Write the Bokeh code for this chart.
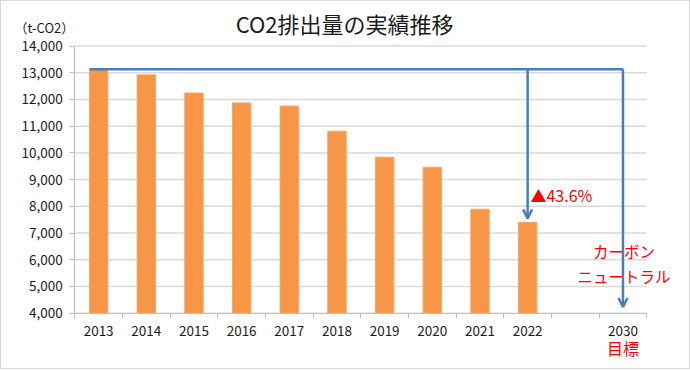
from bokeh.plotting import figure
from bokeh.models import (FixedTicker, Range1d, Label, Arrow, OpenHead,
                          NumeralTickFormatter, ColumnDataSource)
from bokeh.embed import file_html
from bokeh.resources import INLINE

# ---- data ----
years = ["2013", "2014", "2015", "2016", "2017", "2018", "2019", "2020",
         "2021", "2022", "", "2030"]
emissions = [13130, 12920, 12240, 11870, 11750, 10810, 9840, 9460, 7890, 7400]
y_ticks = [4000, 5000, 6000, 7000, 8000, 9000, 10000, 11000, 12000, 13000, 14000]
title_text = "CO2排出量の実績推移"
unit_text = "（t-CO2）"
target_text = "目標"
neutral_lines = ["カーボン", "ニュートラル"]

FONT = "Noto Sans CJK JP"
ORANGE = "#f79646"
BLUE = "#4a7ebb"
RED = "#ff0000"
GRID = "#d9d9d9"
AXIS = "#bfbfbf"
TEXT = "#1a1a1a"

W, H = 690, 369
n = len(years)
centers = [i + 0.5 for i in range(n)]
bar_w = 0.386
src = ColumnDataSource(dict(x=centers[:len(emissions)], top=emissions))

# pixel layout of the plotting area inside the picture
px_left, px_right = 73.3, 645.3          # x = 0 .. n
px_top, px_bottom = 44.5, 311.7          # y = 14000 .. 4000
sx = (px_right - px_left) / n
sy = (px_bottom - px_top) / (y_ticks[-1] - y_ticks[0])
x_range = Range1d(-px_left / sx, n + (W - px_right) / sx)
y_range = Range1d(y_ticks[0] - (H - px_bottom) / sy, y_ticks[-1] + px_top / sy)

p = figure(width=W, height=H, x_range=x_range, y_range=y_range, title=None,
           output_backend="svg", toolbar_location=None,
           min_border_left=0, min_border_right=0,
           min_border_top=0, min_border_bottom=0)
p.styles = {"border": "1px solid #d9d9d9"}
p.outline_line_color = None
p.background_fill_color = "white"
p.border_fill_color = "white"
p.xgrid.grid_line_color = None
p.ygrid.grid_line_color = None

# horizontal gridlines across the category span
p.segment(x0=0, x1=n, y0=y_ticks, y1=y_ticks, line_color=GRID, line_width=1.5)

p.vbar(x="x", top="top", bottom=y_ticks[0], width=bar_w, source=src,
       fill_color=ORANGE, line_color="#f9a561", line_width=1)

# axes fixed inside the frame
lab_idx = [i for i, y in enumerate(years) if y]
xa = p.xaxis[0]
xa.fixed_location = y_ticks[0]
xa.bounds = (0, n)
xa.ticker = FixedTicker(ticks=[centers[i] for i in lab_idx],
                        minor_ticks=list(range(n + 1)))
xa.major_label_overrides = {centers[i]: years[i] for i in lab_idx}
xa.major_tick_out = 0
xa.major_tick_in = 0
xa.minor_tick_out = 5
xa.minor_tick_in = 0
xa.minor_tick_line_color = AXIS
xa.axis_line_color = AXIS
xa.axis_line_width = 1.2
xa.major_label_standoff = 8

ya = p.yaxis[0]
ya.fixed_location = 0
ya.bounds = (y_ticks[0], y_ticks[-1])
ya.ticker = FixedTicker(ticks=y_ticks)
ya.formatter = NumeralTickFormatter(format="0,0")
ya.major_tick_out = 5
ya.major_tick_in = 0
ya.minor_tick_line_color = None
ya.major_tick_line_color = AXIS
ya.axis_line_color = AXIS
ya.axis_line_width = 1.2
ya.major_label_standoff = 7

for ax in (xa, ya):
    ax.major_label_text_font = FONT
    ax.major_label_text_font_size = "13.5px"
    ax.major_label_text_color = TEXT

# reduction annotation lines
base = emissions[0]
i22 = len(emissions) - 1
i30 = n - 1
x_left = centers[0] - bar_w / 2
p.line(x=[x_left, centers[i30]], y=[base, base], line_color=BLUE, line_width=2.5)
p.add_layout(Arrow(end=OpenHead(size=9, line_color=BLUE, line_width=2.5),
                   x_start=centers[i22], y_start=base,
                   x_end=centers[i22], y_end=emissions[-1] + 150,
                   line_color=BLUE, line_width=2.5))
p.add_layout(Arrow(end=OpenHead(size=9, line_color=BLUE, line_width=2.5),
                   x_start=centers[i30], y_start=base,
                   x_end=centers[i30], y_end=y_ticks[0] + 230,
                   line_color=BLUE, line_width=2.5))

def label(x, y, text, size, color, align="center"):
    p.add_layout(Label(x=x, y=y, text=text, text_font=FONT,
                       text_font_size=size, text_color=color,
                       text_baseline="middle", text_align=align))

pct = (1 - emissions[-1] / emissions[0]) * 100
label(centers[i22] + 0.06, 8420, f"▲{pct:.1f}%", "16px", RED, "left")
label(centers[i30] + 0.02, 6310, neutral_lines[0], "15.5px", RED)
label(centers[i30] + 0.02, 5410, neutral_lines[1], "15.5px", RED)
label(centers[i30], 2680, target_text, "16px", RED)
label(5.66, 14845, title_text, "22px", TEXT)
label(-1.265, 14676, unit_text, "13px", TEXT, "left")

open("out.html", "w").write(file_html(p, INLINE))
